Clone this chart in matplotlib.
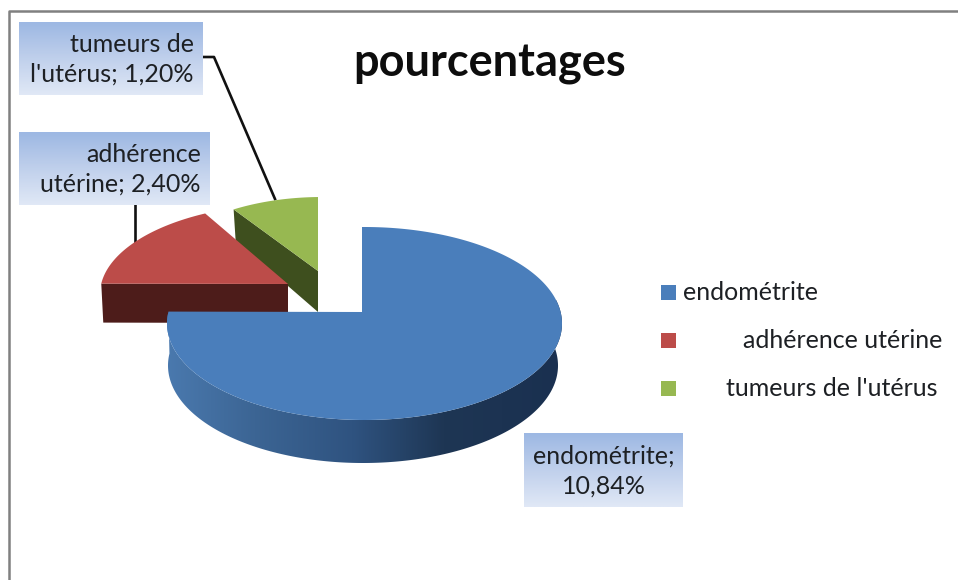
# -*- coding: utf-8 -*-
"""Exploded 3D look pie chart, pourcentages."""
import numpy as np
import matplotlib
matplotlib.use("Agg")
import matplotlib.pyplot as plt
from matplotlib.colors import LinearSegmentedColormap
from matplotlib.patches import Polygon, Rectangle

categories = ["endométrite", "adhérence utérine", "tumeurs de l'utérus"]
values = [10.84, 2.40, 1.20]
legend_labels = ["endométrite", "adhérence utérine", "tumeurs de l'utérus"]
box_labels = ["endométrite;\n10,84%", "adhérence\nutérine; 2,40%", "tumeurs de\nl'utérus; 1,20%"]

TOP = ["#4a7ebb", "#bc4c49", "#97b851"]
SIDE = [None, "#4d1c1a", "#3e4f1e"]
FONT = "Lato"
INK = "#1d2024"

plt.rcParams.update({"font.family": FONT})

fig = plt.figure(figsize=(9.58, 5.8), dpi=100)
ax = fig.add_axes([0, 0, 1, 1])


def rim(theta, apex, centre, rx, ry, k=0.49):
    # where a ray from the apex hits the slanted ellipse of the slice
    t = np.radians(theta)
    dx, dy = np.cos(t), -k * np.sin(t)
    ox, oy = apex[0] - centre[0], apex[1] - centre[1]
    a = (dx / rx) ** 2 + (dy / ry) ** 2
    b = 2 * (ox * dx / rx ** 2 + oy * dy / ry ** 2)
    c = (ox / rx) ** 2 + (oy / ry) ** 2 - 1
    s = (-b + np.sqrt(b * b - 4 * a * c)) / (2 * a)
    return np.column_stack([apex[0] + s * dx, apex[1] + s * dy])


# slice angles, clockwise from 12 o'clock
sweep = np.array(values) / sum(values) * 360
starts = 90 - np.concatenate([[0], np.cumsum(sweep)[:-1]])
ends = starts - sweep

# apex, ellipse centre, radii, squash, depth of each exploded slice
geo = [
    dict(apex=(362, 312), centre=(364.5, 323.5), rx=197.5, ry=96.5, k=0.49, depth=42),
    dict(apex=(288, 284), centre=(290, 294), rx=190, ry=90, k=0.49, depth=39),
    dict(apex=(318, 271), centre=(322, 279), rx=167, ry=82, k=0.42, depth=41),
]


def face(i):
    g = geo[i]
    th = np.linspace(starts[i], ends[i], 200)
    arc = rim(th, g["apex"], g["centre"], g["rx"], g["ry"], g["k"])
    return np.vstack([[g["apex"]], arc])


# green slice, wall on its cut edge
g = geo[2]
edge = rim(np.array([ends[2] + sweep[2]]), g["apex"], g["centre"], g["rx"], g["ry"], g["k"])[0]
wall = [edge, g["apex"], (g["apex"][0], g["apex"][1] + g["depth"]), (edge[0] + 2, edge[1] + g["depth"] * 0.76)]
ax.add_patch(Polygon(wall, closed=True, fc=SIDE[2], ec="none", zorder=2))
ax.add_patch(Polygon(face(2), closed=True, fc=TOP[2], ec="none", zorder=3))

# red slice, wall on its front edge
g = geo[1]
edge = rim(np.array([starts[1]]), g["apex"], g["centre"], g["rx"], g["ry"], g["k"])[0]
wall = [edge, g["apex"], (g["apex"][0], g["apex"][1] + g["depth"]), (edge[0] + 2, edge[1] + g["depth"])]
ax.add_patch(Polygon(wall, closed=True, fc=SIDE[1], ec="none", zorder=4))
ax.add_patch(Polygon(face(1), closed=True, fc=TOP[1], ec="none", zorder=5))

# blue slice, outer wall with its shading then the top
g = geo[0]
th = np.linspace(ends[0], 12, 300)
upper = rim(th, g["apex"], g["centre"], g["rx"], g["ry"], g["k"])
low_apex = (g["apex"][0], g["apex"][1] + g["depth"])
low_centre = (g["centre"][0] - 1.5, g["centre"][1] + g["depth"])
lower = rim(th, low_apex, low_centre, g["rx"] - 2.5, g["ry"] + 1, g["k"])
side = Polygon(np.vstack([upper, lower[::-1]]), closed=True, fc="none", ec="none")
ax.add_patch(side)
shade = LinearSegmentedColormap.from_list(
    "wall", [(0, "#4a79ae"), (0.22, "#3c6594"), (0.47, "#2f5380"), (0.7, "#1e3654"), (1, "#1a3050")])
im = ax.imshow(np.linspace(0, 1, 256)[None, :], extent=(167, 562, 470, 300), cmap=shade,
               aspect="auto", zorder=6)
im.set_clip_path(side)
ax.add_patch(Polygon(face(0), closed=True, fc=TOP[0], ec="none", zorder=7))

# leader lines
ax.plot([203, 214, 275], [57, 57, 199], color="#111111", lw=1.9, zorder=2)
ax.plot([135, 135], [205, 242], color="#111111", lw=1.9, zorder=2)

# data label boxes with the pale blue fill
fill = LinearSegmentedColormap.from_list("box", ["#9db8e3", "#c0d0ec", "#e0e8f6"])
boxes = [(524, 433, 683, 507), (19, 132, 210, 205), (19, 22, 203, 95)]
for (x0, y0, x1, y1), txt, ha in zip(boxes, box_labels, ["center", "right", "right"]):
    r = Rectangle((x0, y0), x1 - x0, y1 - y0, fc="none", ec="none")
    ax.add_patch(r)
    b = ax.imshow(np.linspace(0, 1, 64)[:, None], extent=(x0, x1, y1, y0), cmap=fill,
                  aspect="auto", zorder=8)
    b.set_clip_path(r)
    tx = (x0 + x1) / 2 if ha == "center" else x1 - 9
    ax.text(tx, (y0 + y1) / 2 + 1, txt, ha=ha, va="center", fontsize=18, color=INK,
            linespacing=1.34, zorder=9)

# legend
legend_y = [293, 341, 389]
legend_x = [683, 743, 726]
for c, y, x, txt in zip(TOP, legend_y, legend_x, legend_labels):
    ax.add_patch(Rectangle((661, y - 8.5), 15, 15, fc=c, ec="none", zorder=8))
    ax.text(x, y, txt, ha="left", va="center", fontsize=18, color=INK, zorder=9)

ax.text(490, 64, "pourcentages", ha="center", va="center", fontsize=32.5, fontweight="bold",
        color="#0d0d0d", zorder=9)

# frame of the pasted chart, only top and left are in shot
ax.plot([9, 9, 958], [580, 11, 11], color="#808080", lw=1.8, zorder=1)

ax.set_xlim(0, 958)
ax.set_ylim(580, 0)
ax.axis("off")
fig.savefig("out.png", dpi=100)
